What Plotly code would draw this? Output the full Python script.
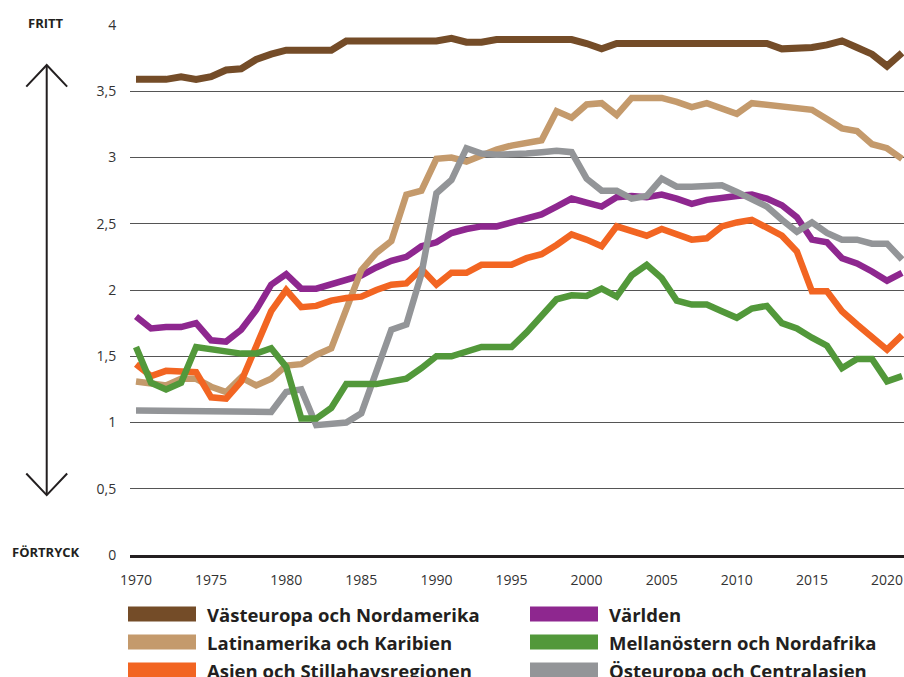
import plotly.graph_objects as go

years = list(range(1970, 2022))

vasteuropa = [3.59, 3.59, 3.59, 3.61, 3.59, 3.61, 3.66, 3.67, 3.74, 3.78,
              3.81, 3.81, 3.81, 3.81, 3.88, 3.88, 3.88, 3.88, 3.88, 3.88,
              3.88, 3.90, 3.87, 3.87, 3.89, 3.89, 3.89, 3.89, 3.89, 3.89,
              3.86, 3.82, 3.86, 3.86, 3.86, 3.86, 3.86, 3.86, 3.86, 3.86,
              3.86, 3.86, 3.86, 3.82, 3.82, 3.83, 3.85, 3.88, 3.83, 3.78,
              3.69, 3.79]

latinamerika = [1.31, 1.29, 1.28, 1.33, 1.33, 1.27, 1.23, 1.34, 1.28, 1.33,
                1.43, 1.44, 1.51, 1.56, 1.87, 2.15, 2.28, 2.37, 2.72, 2.75,
                2.99, 3.00, 2.97, 3.02, 3.06, 3.09, 3.11, 3.13, 3.35, 3.30,
                3.40, 3.41, 3.32, 3.45, 3.45, 3.45, 3.42, 3.38, 3.41, 3.37,
                3.33, 3.41, 3.40, 3.39, 3.38, 3.36, 3.29, 3.22, 3.20, 3.10,
                3.07, 2.99]

asien = [1.44, 1.35, 1.39, 1.39, 1.38, 1.19, 1.18, 1.31, 1.59, 1.84,
         2.00, 1.87, 1.88, 1.92, 1.94, 1.95, 2.00, 2.04, 2.05, 2.16,
         2.04, 2.13, 2.13, 2.19, 2.19, 2.19, 2.24, 2.27, 2.34, 2.42,
         2.38, 2.33, 2.48, 2.44, 2.41, 2.46, 2.42, 2.38, 2.39, 2.48,
         2.51, 2.53, 2.47, 2.41, 2.29, 1.99, 1.99, 1.84, 1.74, 1.64,
         1.55, 1.66]

varlden = [1.80, 1.71, 1.72, 1.72, 1.75, 1.62, 1.61, 1.70, 1.85, 2.04,
           2.12, 2.01, 2.01, 2.04, 2.07, 2.11, 2.17, 2.22, 2.25, 2.33,
           2.36, 2.43, 2.46, 2.48, 2.48, 2.51, 2.54, 2.57, 2.63, 2.69,
           2.66, 2.63, 2.70, 2.71, 2.70, 2.72, 2.69, 2.65, 2.68, 2.70,
           2.71, 2.72, 2.69, 2.64, 2.55, 2.38, 2.36, 2.24, 2.20, 2.14,
           2.07, 2.13]

mellanostern = [1.57, 1.30, 1.25, 1.30, 1.57, 1.55, 1.53, 1.52, 1.52, 1.56,
                1.42, 1.03, 1.03, 1.11, 1.29, 1.29, 1.29, 1.31, 1.33, 1.41,
                1.50, 1.50, 1.54, 1.57, 1.57, 1.57, 1.68, 1.80, 1.93, 1.96,
                1.955, 2.01, 1.95, 2.11, 2.19, 2.09, 1.92, 1.89, 1.89, 1.84,
                1.79, 1.86, 1.88, 1.75, 1.71, 1.64, 1.58, 1.41, 1.48, 1.48,
                1.31, 1.35]

osteuropa = [1.09, 1.09, 1.09, 1.09, 1.09, 1.085, 1.085, 1.08, 1.08, 1.08,
             1.23, 1.25, 0.98, 0.99, 1.00, 1.07, 1.38, 1.70, 1.74, 2.12,
             2.73, 2.83, 3.07, 3.03, 3.02, 3.02, 3.03, 3.04, 3.05, 3.04,
             2.84, 2.75, 2.75, 2.69, 2.71, 2.84, 2.78, 2.78, 2.79, 2.79,
             2.74, 2.68, 2.63, 2.53, 2.44, 2.51, 2.43, 2.38, 2.38, 2.35,
             2.35, 2.23]

series_names = ["Västeuropa och Nordamerika", "Latinamerika och Karibien",
                "Asien och Stillahavsregionen", "Världen",
                "Mellanöstern och Nordafrika", "Östeuropa och Centralasien"]
series_values = [vasteuropa, latinamerika, asien, varlden, mellanostern, osteuropa]
series_colors = ["#744C28", "#C49A6C", "#F26522", "#8E278F", "#52983A", "#939598"]

y_ticks = [0, 0.5, 1, 1.5, 2, 2.5, 3, 3.5, 4]
y_ticktext = ["0", "0,5", "1", "1,5", "2", "2,5", "3", "3,5", "4"]
x_ticks = [1970, 1975, 1980, 1985, 1990, 1995, 2000, 2005, 2010, 2015, 2020]

fig = go.Figure()
draw_order = [0, 3, 1, 2, 5, 4]
for i in draw_order:
    fig.add_trace(go.Scatter(
        x=years, y=series_values[i], mode="lines", name=series_names[i],
        line=dict(color=series_colors[i], width=7 if i == 0 else 6.5),
        showlegend=False, hoverinfo="skip"))

txt = "#231F20"
fig.update_layout(
    width=904, height=677,
    margin=dict(l=130, r=0, t=25, b=122),
    paper_bgcolor="white", plot_bgcolor="white",
    font=dict(family="Open Sans", size=15, color="#333333"),
    xaxis=dict(range=[1969.6, 2021.13], tickvals=x_ticks, showgrid=False,
               zeroline=False, showline=True, linecolor=txt, linewidth=3,
               ticks="outside", ticklen=10, tickcolor="rgba(0,0,0,0)",
               tickfont=dict(size=14, color="#333333")),
    yaxis=dict(range=[0, 4], tickvals=y_ticks, ticktext=y_ticktext,
               showgrid=True, gridcolor="#555555", gridwidth=1,
               zeroline=False, showline=False,
               ticks="outside", ticklen=10, tickcolor="rgba(0,0,0,0)",
               tickfont=dict(size=14, color="#333333")),
)

# side labels
fig.add_annotation(xref="paper", yref="y", x=-0.1085, y=4.0, text="<b>FRITT</b>",
                   showarrow=False, font=dict(size=13, color=txt),
                   xanchor="center", yanchor="middle", yshift=2)
fig.add_annotation(xref="paper", yref="y", x=-0.1085, y=0.0, text="<b>FÖRTRYCK</b>",
                   showarrow=False, font=dict(size=13, color=txt),
                   xanchor="center", yanchor="middle", yshift=3)

# double arrow
ax = -0.1076
fig.add_shape(type="line", xref="paper", yref="y", x0=ax, x1=ax, y0=0.46, y1=3.69,
              line=dict(color=txt, width=2))
fig.add_shape(type="path", xref="paper", yref="y",
              path=f"M {-0.1340},{3.535} L {ax},{3.698} L {-0.0812},{3.535}",
              line=dict(color=txt, width=2))
fig.add_shape(type="path", xref="paper", yref="y",
              path=f"M {-0.1340},{0.615} L {ax},{0.452} L {-0.0812},{0.615}",
              line=dict(color=txt, width=2))

# legend (manual, two columns)
col_x = [128, 530]
row_y = [614, 642, 670]
pl, pw = 130, 774
pt, ph = 25, 530
def px_to_paper_x(px):
    return (px - pl) / pw
def px_to_paper_y(py):
    return (pt + ph - py) / ph
for k, i in enumerate(range(6)):
    c, r = k // 3, k % 3
    x0 = col_x[c]
    yc = row_y[r]
    fig.add_shape(type="rect", xref="paper", yref="paper",
                  x0=px_to_paper_x(x0), x1=px_to_paper_x(x0 + 68),
                  y0=px_to_paper_y(yc - 7.5), y1=px_to_paper_y(yc + 7.5),
                  fillcolor=series_colors[i], line=dict(width=0))
    fig.add_annotation(xref="paper", yref="paper",
                       x=px_to_paper_x(x0 + 77), y=px_to_paper_y(yc),
                       text=f"<b>{series_names[i]}</b>", showarrow=False,
                       xanchor="left", yanchor="middle",
                       font=dict(size=18.5, color=txt))

fig.write_html("out.html", config={"displayModeBar": False},
               post_script="document.body.style.margin='0';document.body.style.overflow='hidden';")
